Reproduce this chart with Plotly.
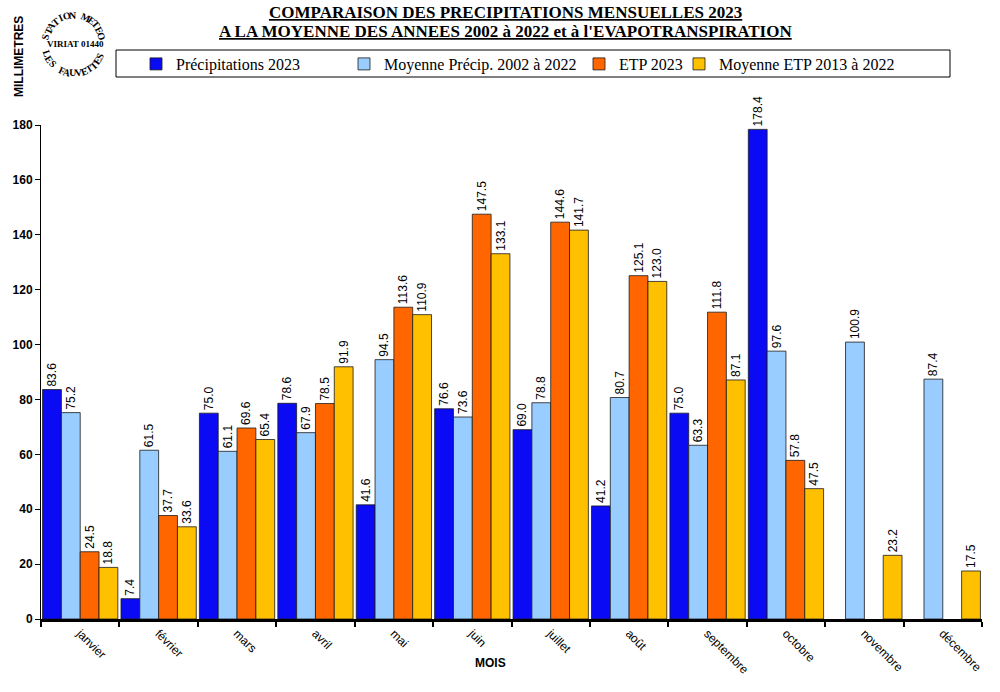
import math
import plotly.graph_objects as go

months = ["janvier", "février", "mars", "avril", "mai", "juin", "juillet",
          "août", "septembre", "octobre", "novembre", "décembre"]
precip_2023 = [83.6, 7.4, 75.0, 78.6, 41.6, 76.6, 69.0, 41.2, 75.0, 178.4, None, None]
precip_moy = [75.2, 61.5, 61.1, 67.9, 94.5, 73.6, 78.8, 80.7, 63.3, 97.6, 100.9, 87.4]
etp_2023 = [24.5, 37.7, 69.6, 78.5, 113.6, 147.5, 144.6, 125.1, 111.8, 57.8, None, None]
etp_moy = [18.8, 33.6, 65.4, 91.9, 110.9, 133.1, 141.7, 123.0, 87.1, 47.5, 23.2, 17.5]

series = [
    ("Précipitations 2023", precip_2023, "#0A0AF5"),
    ("Moyenne Précip. 2002 à 2022", precip_moy, "#99CCFF"),
    ("ETP 2023", etp_2023, "#FF6600"),
    ("Moyenne ETP 2013 à 2022", etp_moy, "#FFC000"),
]

W, H = 1000, 692
# plot area in screen pixels: x 41..982, y 125..619
L, T = 41, 125
R = W - 982
B = H - 619
PW, PH = W - L - R, H - T - B

def px(xs):
    return (xs - L) / PW

def py(ys):
    return (H - B - ys) / PH

fig = go.Figure()
legend_names = ["legend", "legend2", "legend3", "legend4"]
for (name, vals, col), lg in zip(series, legend_names):
    fig.add_trace(go.Bar(
        name=name, x=months, y=vals, legend=lg,
        marker=dict(color=col, line=dict(color="#1a1a1a", width=0.8)),
        text=[None if v is None else f"{v:.1f}" for v in vals],
        textposition="outside", textangle=-90, constraintext="none",
        cliponaxis=False,
        textfont=dict(family="Liberation Sans", size=12, color="black"),
    ))

annotations = []

def note(xs, ys, text, font, angle=0):
    annotations.append(dict(x=px(xs), y=py(ys), xref="paper", yref="paper",
                            text=text, showarrow=False, textangle=angle, font=font,
                            xanchor="center", yanchor="middle"))

# Logo: circular text
cx, cy, rad = 74, 44, 29
logo_font = dict(family="Liberation Serif", size=10, color="black")
top_txt = "STATION METEO"
n = len(top_txt)
a0, a1 = 166, 16
for i, ch in enumerate(top_txt):
    th = a0 + (a1 - a0) * i / (n - 1)
    note(cx + rad * math.cos(math.radians(th)), cy - rad * math.sin(math.radians(th)),
         f"<b>{ch}</b>", logo_font, 90 - th)
bot_txt = "LES FAUVETTES"
n = len(bot_txt)
a0, a1 = 200, 336
for i, ch in enumerate(bot_txt):
    th = a0 + (a1 - a0) * i / (n - 1)
    note(cx + rad * math.cos(math.radians(th)), cy - rad * math.sin(math.radians(th)),
         f"<b>{ch}</b>", logo_font, -90 - th)
note(75, 44, "<b>VIRIAT 01440</b>", dict(family="Liberation Serif", size=9, color="black"))
note(19, 57, "<b>MILLIMETRES</b>", dict(family="Liberation Sans", size=12, color="black"), -90)
note(490, 663, "<b>MOIS</b>", dict(family="Liberation Sans", size=12, color="black"))
title_font = dict(family="Liberation Serif", size=17, color="black", lineposition="under")
note(505, 12, "<b>COMPARAISON DES PRECIPITATIONS MENSUELLES 2023</b>", title_font)
note(505, 31, "<b>A LA MOYENNE DES ANNEES 2002 à 2022 et à l'EVAPOTRANSPIRATION</b>", title_font)

leg_font = dict(family="Liberation Serif", size=16, color="black")
text_starts = [174, 382, 617, 717]
legends = {}
for lg, ts in zip(legend_names, text_starts):
    legends[lg] = dict(orientation="h", x=px(ts - 38), y=py(64),
                       xanchor="left", yanchor="middle",
                       bgcolor="rgba(0,0,0,0)", borderwidth=0,
                       font=leg_font, itemwidth=30)

fig.update_layout(
    width=W, height=H,
    margin=dict(l=L, r=R, t=T, b=B),
    paper_bgcolor="white", plot_bgcolor="white",
    barmode="group", bargap=0.04, bargroupgap=0,
    annotations=annotations,
    shapes=[dict(type="rect", xref="paper", yref="paper",
                 x0=px(116), x1=px(950), y0=py(77), y1=py(50),
                 line=dict(color="black", width=1), fillcolor="rgba(0,0,0,0)")],
    xaxis=dict(showline=True, linecolor="black", linewidth=2.5,
               ticks="outside", tickson="boundaries", ticklen=5, tickwidth=2,
               tickcolor="black", tickangle=45,
               tickfont=dict(family="Liberation Sans", size=12, color="black"),
               showgrid=False),
    yaxis=dict(range=[0, 180], dtick=20, showline=True, linecolor="black", linewidth=1,
               ticks="outside", ticklen=5, tickcolor="black",
               tickfont=dict(family="Liberation Sans", size=12, color="black"),
               tickprefix="<b>", ticksuffix="</b>",
               showgrid=False, zeroline=False),
    showlegend=True,
    **legends,
)

fig.write_html("out.html", config={"displayModeBar": False},
               post_script="document.body.style.margin='0';document.body.style.overflow='hidden';")
